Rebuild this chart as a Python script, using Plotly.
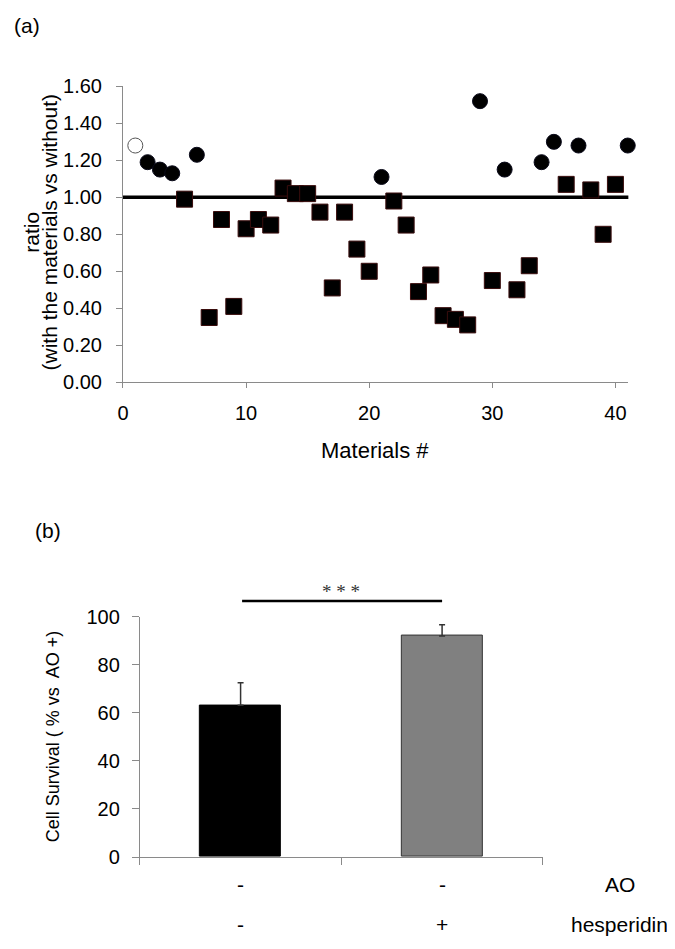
import plotly.graph_objects as go

# ====================== DATA ======================
# (a) ratio per material (#1..#41); marker group
MATERIALS = [1, 2, 3, 4, 5, 6, 7, 8, 9, 10, 11, 12, 13, 14, 15, 16, 17, 18, 19, 20, 21,
             22, 23, 24, 25, 26, 27, 28, 29, 30, 31, 32, 33, 34, 35, 36, 37, 38, 39, 40, 41]
RATIO = [1.28, 1.19, 1.15, 1.13, 0.99, 1.23, 0.35, 0.88, 0.41, 0.83, 0.88, 0.85, 1.05, 1.02,
         1.02, 0.92, 0.51, 0.92, 0.72, 0.60, 1.11, 0.98, 0.85, 0.49, 0.58, 0.36, 0.34, 0.31,
         1.52, 0.55, 1.15, 0.50, 0.63, 1.19, 1.30, 1.07, 1.28, 1.04, 0.80, 1.07, 1.28]
GROUP = ['open', 'circle', 'circle', 'circle', 'square', 'circle', 'square', 'square',
         'square', 'square', 'square', 'square', 'square', 'square', 'square', 'square',
         'square', 'square', 'square', 'square', 'circle', 'square', 'square', 'square',
         'square', 'square', 'square', 'square', 'circle', 'square', 'circle', 'square',
         'square', 'circle', 'circle', 'square', 'circle', 'square', 'square', 'square',
         'circle']
REF_LINE = 1.0
YTICKS_A = [0.0, 0.2, 0.4, 0.6, 0.8, 1.0, 1.2, 1.4, 1.6]
XTICKS_A = [0, 10, 20, 30, 40]

# (b) cell survival
BAR_POS = [0, 1]
SURVIVAL = [63.1, 91.9]
SURVIVAL_ERR = [9.4, 4.7]
AO_ROW = ['-', '-']
HESP_ROW = ['-', '+']
SIG_LEVEL = 106.5
YTICKS_B = [0, 20, 40, 60, 80, 100]

# ====================== LAYOUT HELPERS ======================
# the page body keeps its default 8px margin, so the figure is 16px smaller
BODY = 8
W, H = 675 - 2 * BODY, 949 - 2 * BODY
FONT = 'Liberation Sans, Arial, sans-serif'
AXIS_GREY = '#8a8a8a'


def px(x):
    return (x - BODY) / W


def py(y):
    return 1 - (y - BODY) / H


fig = go.Figure()

# ---------- (a) scatter ----------
fig.add_trace(go.Scatter(
    x=[0, 41.6], y=[REF_LINE, REF_LINE], mode='lines',
    line=dict(color='black', width=3.5), xaxis='x', yaxis='y',
    showlegend=False, hoverinfo='skip'))

styles = {
    'square': dict(symbol='square', size=16, color='black',
                   line=dict(color='#3a0d0d', width=1)),
    'circle': dict(symbol='circle', size=15, color='black',
                   line=dict(color='#0a0a1a', width=1)),
    'open': dict(symbol='circle', size=15, color='white',
                 line=dict(color='#555555', width=1)),
}
for g in ['square', 'circle', 'open']:
    xs = [m for m, k in zip(MATERIALS, GROUP) if k == g]
    ys = [r for r, k in zip(RATIO, GROUP) if k == g]
    fig.add_trace(go.Scatter(x=xs, y=ys, mode='markers', marker=styles[g],
                             cliponaxis=False, xaxis='x', yaxis='y',
                             showlegend=False))

# ---------- (b) bars ----------
fig.add_trace(go.Bar(
    x=BAR_POS, y=SURVIVAL, width=0.4,
    marker=dict(color=['black', '#808080'],
                line=dict(color=['black', '#333333'], width=1)),
    error_y=dict(type='data', array=SURVIVAL_ERR, symmetric=False,
                 arrayminus=[0, 0], color='#333333', thickness=1.5, width=3),
    xaxis='x2', yaxis='y2', showlegend=False))

axis_common = dict(showline=True, linecolor=AXIS_GREY, linewidth=1,
                   ticks='outside', tickcolor=AXIS_GREY, tickwidth=1,
                   showgrid=False, zeroline=False,
                   tickfont=dict(family=FONT, size=20, color='black'))

ya2_dom = [py(866.3), py(620)]
fig.update_layout(
    width=W, height=H, autosize=False,
    margin=dict(l=0, r=0, t=0, b=0),
    paper_bgcolor='white', plot_bgcolor='rgba(0,0,0,0)',
    bargap=0,
    xaxis=dict(domain=[px(118), px(628)], range=[0, 41.05],
               tickvals=XTICKS_A, ticklen=5, ticklabelstandoff=8,
               anchor='y', **axis_common),
    yaxis=dict(domain=[py(380), py(77)], range=[0, 1.6],
               tickvals=YTICKS_A, tickformat='.2f', ticklen=6,
               ticklabelstandoff=10, anchor='x', **axis_common),
    xaxis2=dict(domain=[px(135), px(541.7)], range=[-0.5, 1.5],
                tickvals=[-0.5, 0.5, 1.5], showticklabels=False, ticklen=7,
                anchor='y2', **axis_common),
    yaxis2=dict(domain=ya2_dom, range=[0, 100],
                tickvals=YTICKS_B, ticklen=7, ticklabelstandoff=8,
                anchor='x2', **axis_common),
)

# ---------- text ----------
def note(text, x, y, size=21, angle=0, xref='paper', **kw):
    fig.add_annotation(text=text, x=x, y=y, xref=xref, yref='paper',
                       showarrow=False, textangle=angle,
                       xanchor='center', yanchor='middle',
                       font=dict(family=FONT, size=size, color='black'), **kw)


note('(a)', px(21), py(15))
note('(b)', px(42), py(532))
note('ratio', px(26), py(226), size=21, angle=-90)
note('(with the materials vs without)', px(44), py(226), size=21, angle=-90)
note('Materials #', px(372), py(450), size=22)
note('Cell Survival ( % vs  AO +)', px(47), py(743), size=18, angle=-90)

for pos, a, h in zip(BAR_POS, AO_ROW, HESP_ROW):
    note(a, pos, py(894), xref='x2')
    note(h, pos, py(935), xref='x2')
note('AO', px(620), py(894))
note('hesperidin', px(619), py(935))

# significance bar between the two groups
sig_paper = ya2_dom[0] + SIG_LEVEL / 100 * (ya2_dom[1] - ya2_dom[0])
fig.add_annotation(x=BAR_POS[1], y=sig_paper, xref='x2', yref='paper',
                   ax=BAR_POS[0], ay=0, axref='x2', ayref='pixel',
                   text='', showarrow=True, arrowhead=0, arrowwidth=2.5,
                   arrowcolor='black')
fig.add_annotation(x=sum(BAR_POS) / 2, y=sig_paper + 10 / H, xref='x2',
                   yref='paper', text='* * *', showarrow=False,
                   font=dict(family='Liberation Serif, serif', size=19,
                             color='#333333'))

fig.write_html("out.html")
